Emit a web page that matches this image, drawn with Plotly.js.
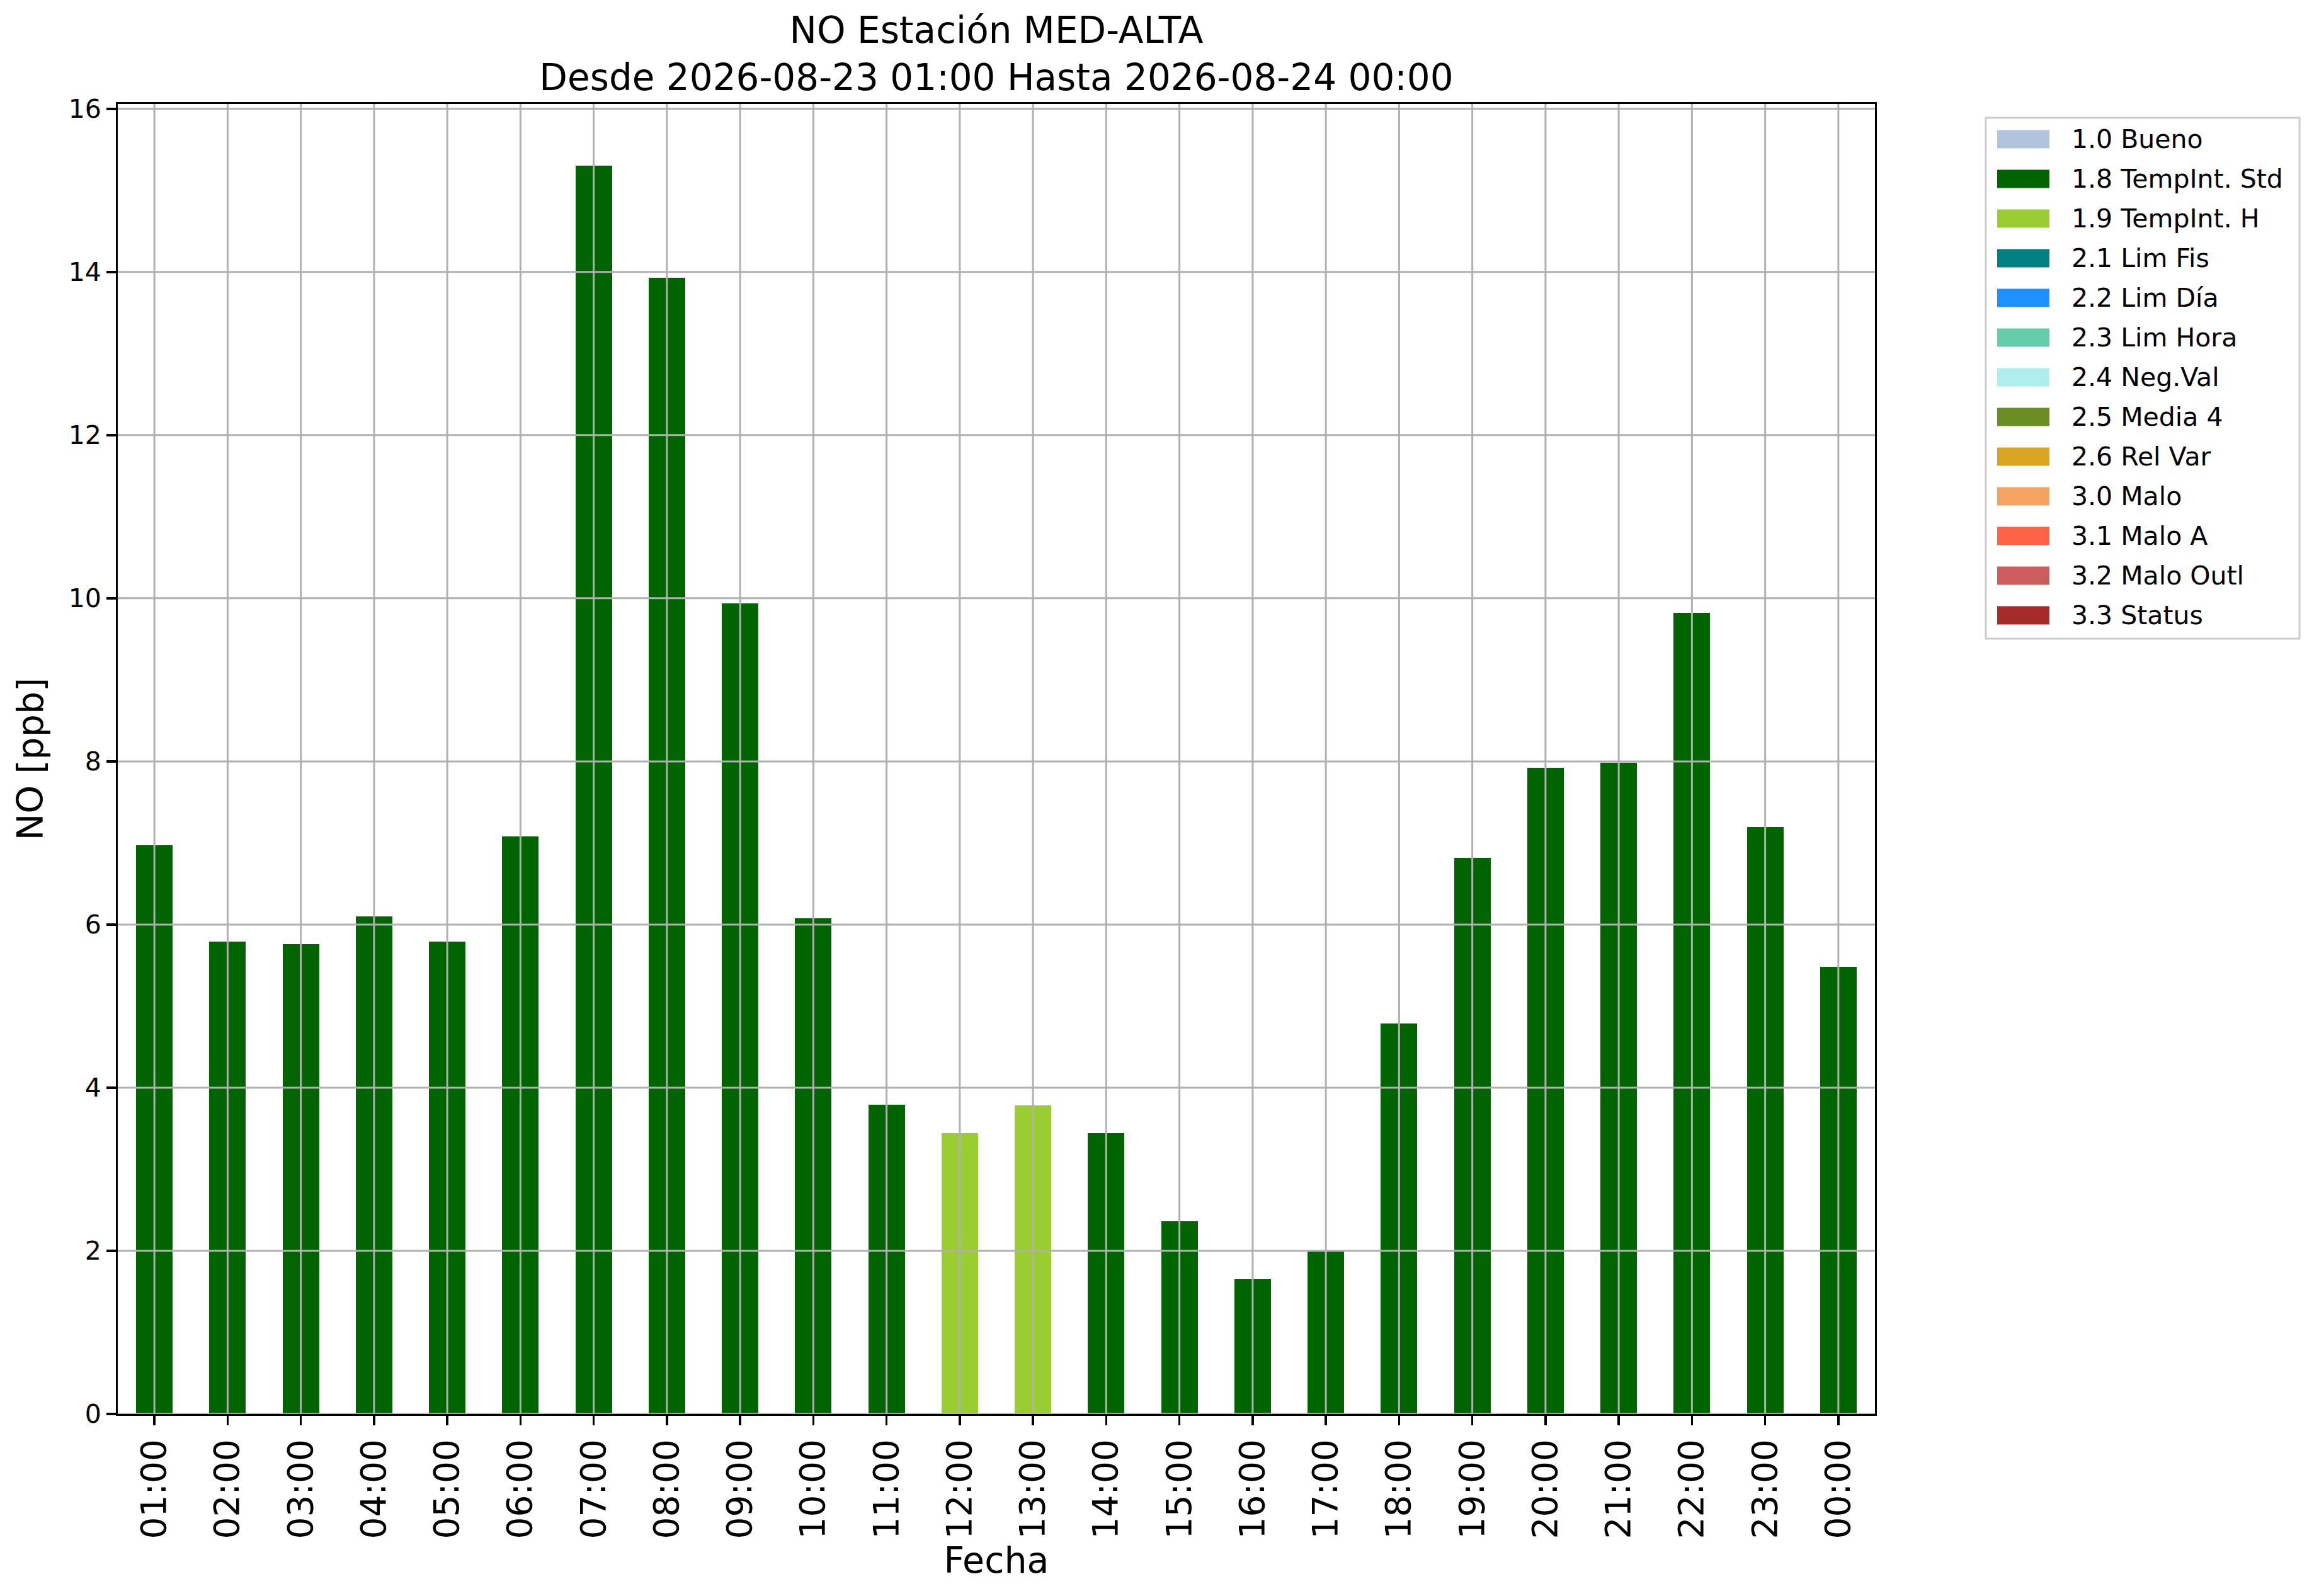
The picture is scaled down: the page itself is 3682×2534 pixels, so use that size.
<!DOCTYPE html>
<html>
<head>
<meta charset="utf-8">
<script src="https://cdn.plot.ly/plotly-3.0.1.min.js"></script>
<style>
  html, body { margin: 0; padding: 0; background: #fff; }
  #chart { width: 3682px; height: 2534px; }
</style>
</head>
<body>
<div id="chart"></div>
<script>
// hourly NO values (ppb) and the validation flag of each hour
const hours = ["01:00", "02:00", "03:00", "04:00", "05:00", "06:00", "07:00", "08:00",
  "09:00", "10:00", "11:00", "12:00", "13:00", "14:00", "15:00", "16:00",
  "17:00", "18:00", "19:00", "20:00", "21:00", "22:00", "23:00", "00:00"];
const noValues = [6.97, 5.79, 5.76, 6.10, 5.79, 7.08, 15.30, 13.93,
  9.94, 6.08, 3.79, 3.44, 3.78, 3.44, 2.36, 1.65,
  1.99, 4.79, 6.82, 7.92, 7.98, 9.82, 7.20, 5.48];
const hourFlags = ["1.8", "1.8", "1.8", "1.8", "1.8", "1.8", "1.8", "1.8",
  "1.8", "1.8", "1.8", "1.9", "1.9", "1.8", "1.8", "1.8",
  "1.8", "1.8", "1.8", "1.8", "1.8", "1.8", "1.8", "1.8"];

// flag categories shown in the legend
const flagCodes = ["1.0", "1.8", "1.9", "2.1", "2.2", "2.3", "2.4", "2.5", "2.6", "3.0", "3.1", "3.2", "3.3"];
const flagLabels = ["1.0 Bueno", "1.8 TempInt. Std", "1.9 TempInt. H", "2.1 Lim Fis", "2.2 Lim Día",
  "2.3 Lim Hora", "2.4 Neg.Val", "2.5 Media 4", "2.6 Rel Var", "3.0 Malo", "3.1 Malo A",
  "3.2 Malo Outl", "3.3 Status"];
const flagColors = ["#b0c4de", "#006400", "#9acd32", "#008080", "#1e90ff", "#66cdaa", "#afeeee",
  "#6b8e23", "#daa520", "#f4a460", "#ff6347", "#cd5c5c", "#a52a2a"];

const yTicks = [0, 2, 4, 6, 8, 10, 12, 14, 16];

const FONT = "DejaVu Sans, Liberation Sans, sans-serif";

// plot box in pixels (used only to place the hand-made legend)
const M = { l: 187, r: 705, t: 165, b: 289 };
const FIG_W = 3682, FIG_H = 2534;
const PW = FIG_W - M.l - M.r;
const PH = FIG_H - M.t - M.b;
const px2x = (px) => (px - M.l) / PW;
const px2y = (py) => (FIG_H - M.b - py) / PH;

// one bar trace per flag, value only where that flag applies
const traces = flagCodes.map((code, i) => ({
  type: "bar",
  name: flagLabels[i],
  x: hours,
  y: noValues.map((v, k) => hourFlags[k] === code ? v : null),
  width: 0.5,
  marker: { color: flagColors[i], line: { width: 0 } },
  showlegend: false,
  hovertemplate: "%{x}<br>%{y:.2f} ppb<extra>" + flagLabels[i] + "</extra>",
}));

const shapes = [];
const annotations = [];

// grid drawn above the bars, like the original
const gridLine = { color: "#b0b0b0", width: 3 };
hours.forEach(h => {
  shapes.push({ type: "line", layer: "above", xref: "x", yref: "paper",
    x0: h, x1: h, y0: 0, y1: 1, line: gridLine });
});
yTicks.forEach(t => {
  shapes.push({ type: "line", layer: "above", xref: "paper", yref: "y",
    x0: 0, x1: 1, y0: t, y1: t, line: gridLine });
});

// legend box
shapes.push({ type: "rect", layer: "above", xref: "paper", yref: "paper",
  x0: px2x(3153), x1: px2x(3651), y0: px2y(1014), y1: px2y(187),
  fillcolor: "rgba(255,255,255,0.8)", line: { color: "#cccccc", width: 3 } });

flagLabels.forEach((lab, i) => {
  const cy = 221 + i * 63;
  shapes.push({ type: "rect", layer: "above", xref: "paper", yref: "paper",
    x0: px2x(3171), x1: px2x(3254), y0: px2y(cy + 14.5), y1: px2y(cy - 14.5),
    fillcolor: flagColors[i], line: { width: 0 } });
  annotations.push({ xref: "paper", yref: "paper", x: px2x(3287), y: px2y(cy),
    xanchor: "left", yanchor: "middle", showarrow: false, text: lab,
    font: { family: FONT, size: 41, color: "#000" } });
});

const layout = {
  width: FIG_W,
  height: FIG_H,
  margin: M,
  paper_bgcolor: "#fff",
  plot_bgcolor: "#fff",
  font: { family: FONT, color: "#000" },
  showlegend: false,
  barmode: "stack",
  title: {
    text: "NO Estación MED-ALTA<br>Desde 2026-08-23 01:00 Hasta 2026-08-24 00:00",
    font: { family: FONT, size: 58, color: "#000" },
    x: px2x(1582), xref: "paper", xanchor: "center",
    y: 1 - 68 / FIG_H, yref: "container", yanchor: "middle",
  },
  xaxis: {
    type: "category",
    range: [-0.5, 23.5],
    showgrid: false,
    showline: true, mirror: true, linecolor: "#000", linewidth: 3,
    ticks: "outside", ticklen: 15, tickwidth: 3.5, tickcolor: "#000",
    tickangle: -90,
    tickfont: { family: FONT, size: 55, color: "#000" },
    title: { text: "Fecha", font: { family: FONT, size: 57, color: "#000" }, standoff: 4 },
  },
  yaxis: {
    range: [0, 16.06],
    tickvals: yTicks,
    showgrid: false,
    zeroline: false,
    showline: true, mirror: true, linecolor: "#000", linewidth: 3,
    ticks: "outside", ticklen: 15, tickwidth: 3.5, tickcolor: "#000",
    tickfont: { family: FONT, size: 41, color: "#000" },
    title: { text: "NO [ppb]", font: { family: FONT, size: 57, color: "#000" }, standoff: 22 },
  },
  shapes,
  annotations,
};

Plotly.newPlot("chart", traces, layout, { staticPlot: true });
</script>
</body>
</html>
